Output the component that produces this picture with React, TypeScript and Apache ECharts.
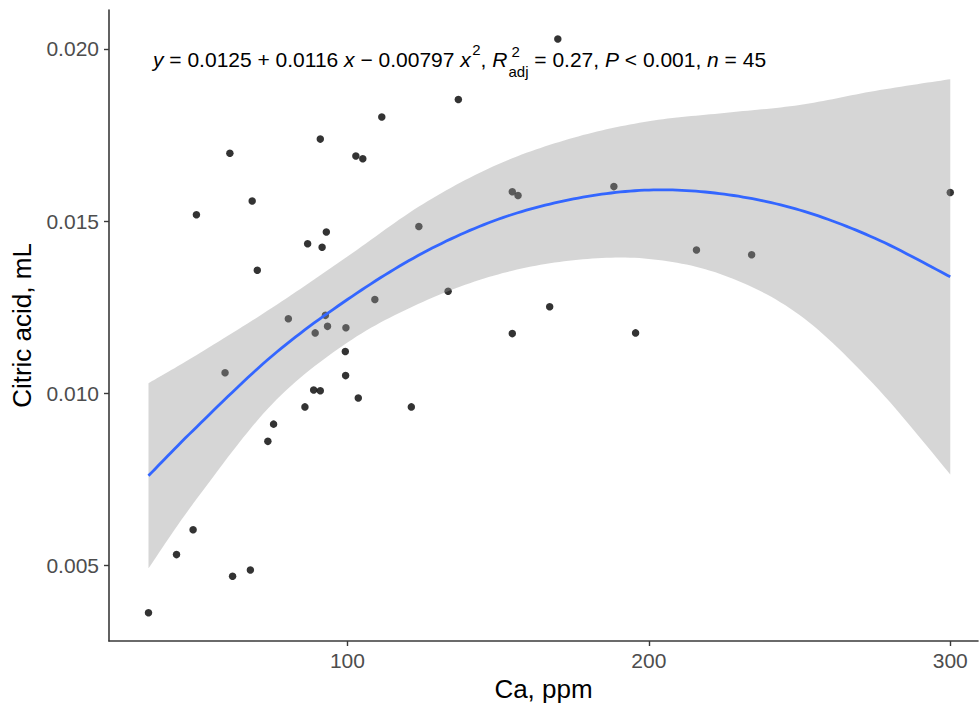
import React, { useEffect, useRef } from "react";
import * as echarts from "echarts";

// Observed points: Ca (ppm) and citric acid (mL)
const caPpm = [
  34.0, 43.3, 48.8, 49.9, 59.4, 61.0, 61.9, 67.8, 68.4, 70.1, 73.6, 75.5, 80.4,
  85.9, 86.8, 88.8, 89.3, 91.0, 91.0, 91.6, 92.7, 93.0, 93.4, 99.3, 99.4, 99.5,
  102.8, 103.6, 105.1, 109.1, 111.4, 121.2, 123.7, 133.4, 136.8, 154.7, 156.6,
  154.7, 167.1, 169.8, 188.4, 195.6, 215.8, 234.1, 300.0,
];
const citricAcid = [
  0.00362, 0.00531, 0.00603, 0.01518, 0.01059, 0.01697, 0.00468, 0.00486,
  0.01558, 0.01357, 0.0086, 0.0091, 0.01216, 0.0096, 0.01434, 0.01009, 0.01175,
  0.01738, 0.01007, 0.01424, 0.01226, 0.01468, 0.01194, 0.01121, 0.01051,
  0.0119, 0.01689, 0.00986, 0.01681, 0.01272, 0.01802, 0.0096, 0.01484,
  0.01296, 0.01853, 0.01585, 0.01574, 0.01173, 0.01251, 0.02029, 0.016,
  0.01175, 0.01416, 0.01402, 0.01583,
];

// Fitted quadratic curve and its confidence band, read along the x axis
const fitCa = [34, 50, 75, 100, 125, 150, 175, 200, 225, 250, 275, 300];
const fitCitric = [
  0.0076, 0.00902, 0.01108, 0.01272, 0.01407, 0.01505, 0.01564, 0.0159,
  0.01578, 0.01532, 0.0145, 0.01338,
];
const ciLower = [
  0.00491, 0.00693, 0.00968, 0.01147, 0.01265, 0.01345, 0.01386, 0.0139,
  0.01342, 0.01227, 0.01022, 0.00764,
];
const ciUpper = [
  0.01029, 0.01111, 0.01248, 0.01397, 0.01549, 0.01665, 0.01742, 0.0179,
  0.01814, 0.01837, 0.01878, 0.01912,
];

const xTicks = [100, 200, 300];
const yTicks = [0.005, 0.01, 0.015, 0.02];
const xTitle = "Ca, ppm";
const yTitle = "Citric acid, mL";

type EqPart = { text?: string; italic?: boolean; sup?: string; supsub?: [string, string] };
const equationParts: EqPart[] = [
  { text: "y", italic: true },
  { text: " = 0.0125 + 0.0116 " },
  { text: "x", italic: true },
  { text: " \u2212 0.00797 " },
  { text: "x", italic: true },
  { sup: "2" },
  { text: ", " },
  { text: "R", italic: true },
  { supsub: ["2", "adj"] },
  { text: " = 0.27, " },
  { text: "P", italic: true },
  { text: " < 0.001, " },
  { text: "n", italic: true },
  { text: " = 45" },
];

const FONT = "Liberation Sans";

function buildEquation(): any[] {
  const ctx = document.createElement("canvas").getContext("2d")!;
  const measure = (t: string, size: number, italic?: boolean) => {
    ctx.font = `${italic ? "italic " : ""}${size}px "${FONT}"`;
    return ctx.measureText(t).width;
  };
  const fs = 21;
  const small = 15;
  const yMain = 59;
  let x = 153;
  const els: any[] = [];
  const mk = (t: string, px: number, py: number, size: number, italic?: boolean) => ({
    type: "text",
    x: px,
    y: py,
    silent: true,
    style: {
      text: t,
      fontFamily: FONT,
      fontSize: size,
      fontStyle: italic ? "italic" : "normal",
      fill: "#000",
      textAlign: "left",
      textVerticalAlign: "middle",
      verticalAlign: "middle",
    },
  });
  for (const p of equationParts) {
    if (p.text !== undefined) {
      els.push(mk(p.text, x, yMain, fs, p.italic));
      x += measure(p.text, fs, p.italic);
    } else if (p.sup) {
      els.push(mk(p.sup, x + 1.5, yMain - 10, small));
      x += measure(p.sup, small) + 1.5;
    } else if (p.supsub) {
      els.push(mk(p.supsub[0], x + 4, yMain - 8, small));
      els.push(mk(p.supsub[1], x + 1, yMain + 12, small));
      x += Math.max(measure(p.supsub[0], small) + 4, measure(p.supsub[1], small) + 1);
    }
  }
  return els;
}

// Catmull-Rom smoothing of pixel points (rendering only)
function smoothPts(pts: number[][], steps = 16): number[][] {
  const out: number[][] = [];
  const n = pts.length;
  for (let i = 0; i < n - 1; i++) {
    const p0 = pts[Math.max(i - 1, 0)];
    const p1 = pts[i];
    const p2 = pts[i + 1];
    const p3 = pts[Math.min(i + 2, n - 1)];
    for (let s = 0; s < steps; s++) {
      const t = s / steps;
      const t2 = t * t;
      const t3 = t2 * t;
      const f = (a: number, b: number, c: number, d: number) =>
        0.5 * (2 * b + (-a + c) * t + (2 * a - 5 * b + 4 * c - d) * t2 + (-a + 3 * b - 3 * c + d) * t3);
      out.push([f(p0[0], p1[0], p2[0], p3[0]), f(p0[1], p1[1], p2[1], p3[1])]);
    }
  }
  out.push(pts[n - 1]);
  return out;
}

export default function App() {
  const ref = useRef<HTMLDivElement>(null);
  useEffect(() => {
    if (!ref.current) return;
    const chart = echarts.init(ref.current, null, { renderer: "svg" });
    const axisColor = "#3a3a3a";
    const option: any = {
      animation: false,
      backgroundColor: "#fff",
      grid: { left: 109, right: 2, top: 10, bottom: 67, containLabel: false },
      xAxis: {
        type: "value",
        min: 20.9,
        max: 309.2,
        splitLine: { show: false },
        axisLine: { show: true, onZero: false, lineStyle: { color: axisColor, width: 1.6 } },
        axisTick: { show: true, length: 5, customValues: xTicks, lineStyle: { color: axisColor, width: 1.4 } },
        axisLabel: {
          customValues: xTicks,
          color: "#4d4d4d",
          fontSize: 21,
          fontFamily: FONT,
          margin: 9,
        },
        name: xTitle,
        nameLocation: "middle",
        nameGap: 35,
        nameTextStyle: { fontSize: 26, color: "#000", fontFamily: FONT },
      },
      yAxis: {
        type: "value",
        min: 0.0028,
        max: 0.02113,
        splitLine: { show: false },
        axisLine: { show: true, onZero: false, lineStyle: { color: axisColor, width: 1.6 } },
        axisTick: { show: true, length: 5, customValues: yTicks, lineStyle: { color: axisColor, width: 1.4 } },
        axisLabel: {
          customValues: yTicks,
          color: "#4d4d4d",
          fontSize: 21,
          fontFamily: FONT,
          margin: 10,
          formatter: (v: number) => v.toFixed(3),
        },
        name: yTitle,
        nameLocation: "middle",
        nameGap: 74,
        nameRotate: 90,
        nameTextStyle: { fontSize: 26, color: "#000", fontFamily: FONT },
      },
      series: [
        {
          type: "scatter",
          name: "points",
          data: caPpm.map((x, i) => [x, citricAcid[i]]),
          symbolSize: 7.5,
          itemStyle: { color: "#000" },
          z: 2,
          silent: true,
        },
        {
          type: "custom",
          name: "fit",
          data: [[fitCa[0], fitCitric[0]]],
          z: 3,
          silent: true,
          clip: false,
          renderItem: (params: any, api: any) => {
            if (params.dataIndex !== 0) return null;
            const up = smoothPts(fitCa.map((x, i) => api.coord([x, ciUpper[i]])));
            const lo = smoothPts(fitCa.map((x, i) => api.coord([x, ciLower[i]])));
            const fit = smoothPts(fitCa.map((x, i) => api.coord([x, fitCitric[i]])));
            return {
              type: "group",
              children: [
                {
                  type: "polygon",
                  shape: { points: up.concat(lo.slice().reverse()) },
                  style: { fill: "rgba(153,153,153,0.4)", stroke: "none" },
                },
                {
                  type: "polyline",
                  shape: { points: fit },
                  style: { stroke: "#3366FF", lineWidth: 2.8, fill: "none" },
                },
              ],
            };
          },
        },
      ],
      graphic: { elements: buildEquation() },
    };
    chart.setOption(option);
    return () => chart.dispose();
  }, []);
  return (
    <div
      ref={ref}
      style={{ position: "fixed", left: 0, top: 0, width: 980, height: 708, background: "#fff" }}
    />
  );
}
